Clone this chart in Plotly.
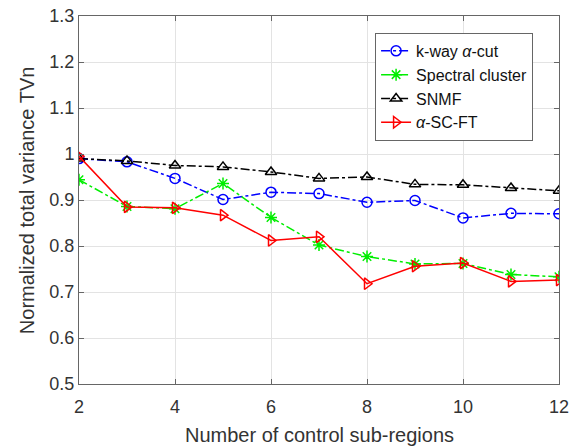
import plotly.graph_objects as go

x = [2, 3, 4, 5, 6, 7, 8, 9, 10, 11, 12]
kway = [0.990, 0.983, 0.947, 0.901, 0.917, 0.914, 0.895, 0.899, 0.861, 0.871, 0.870]
spectral = [0.944, 0.886, 0.881, 0.936, 0.862, 0.802, 0.777, 0.761, 0.762, 0.738, 0.733]
snmf = [0.990, 0.985, 0.975, 0.972, 0.961, 0.947, 0.950, 0.934, 0.933, 0.926, 0.920]
ascft = [0.995, 0.885, 0.883, 0.867, 0.812, 0.820, 0.718, 0.756, 0.763, 0.723, 0.726]

names = ["k-way <i>α</i>-cut", "Spectral cluster", "SNMF", "<i>α</i>-SC-FT"]
colors = ["#0000ff", "#00ee00", "#000000", "#ff0000"]
symbols = ["circle-open", "asterisk-open", "triangle-up-open", "triangle-right-open"]
dashes = ["dashdot", "dashdot", "dashdot", "solid"]
series = [kway, spectral, snmf, ascft]

x_title = "Number of control sub-regions"
y_title = "Normalized total variance TVn"

fig = go.Figure()
for n, c, s, d, y in zip(names, colors, symbols, dashes, series):
    fig.add_trace(go.Scatter(
        x=x, y=y, name=n, mode="lines+markers",
        line=dict(color=c, width=1.5, dash=d),
        marker=dict(symbol=s, size=10, color=c, line=dict(color=c, width=1.5)),
    ))

axis_common = dict(
    showline=True, linecolor="#666", linewidth=1, mirror="ticks",
    ticks="inside", ticklen=5, tickcolor="#666", automargin=False,
    showgrid=True, gridcolor="#e3e3e3", gridwidth=1, zeroline=False,
    tickfont=dict(family="Liberation Sans, Arial", size=18, color="#333"),
)

fig.update_layout(
    width=570, height=447,
    margin=dict(l=79, r=11, t=16, b=63),
    paper_bgcolor="white", plot_bgcolor="white",
    font=dict(family="Liberation Sans, Arial", color="#333"),
    xaxis=dict(range=[2, 12], tickvals=[2, 4, 6, 8, 10, 12],
               ticklabelstandoff=6, **axis_common),
    yaxis=dict(range=[0.5, 1.3], tickvals=[0.5, 0.6, 0.7, 0.8, 0.9, 1.0, 1.1, 1.2, 1.3],
               ticktext=["0.5", "0.6", "0.7", "0.8", "0.9", "1", "1.1", "1.2", "1.3"],
               **axis_common),
    legend=dict(x=0.946, y=0.954, xanchor="right", yanchor="top",
                bgcolor="white", bordercolor="#666", borderwidth=1,
                font=dict(size=16, color="#111"), tracegroupgap=0,
                itemwidth=30),
    showlegend=True,
    annotations=[
        dict(text=x_title, xref="paper", yref="paper", x=0.5, y=-0.1386,
             xanchor="center", yanchor="middle", showarrow=False,
             font=dict(size=20, color="#333")),
        dict(text=y_title, xref="paper", yref="paper", x=-0.108, y=0.5,
             xanchor="center", yanchor="middle", showarrow=False, textangle=-90,
             font=dict(size=20, color="#333")),
    ],
)

fig.write_html("out.html")
